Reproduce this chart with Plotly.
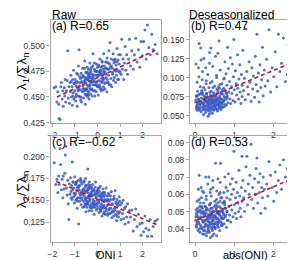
import plotly.graph_objects as go

# ---------------- data ----------------
oni = [
    -1.92, -1.85, -1.80, -1.76, -1.72, -1.70, -1.66, -1.63, -1.60, -1.57, -1.54, -1.52,
    -1.48, -1.45, -1.43, -1.41, -1.38, -1.35, -1.32, -1.30, -1.27, -1.25, -1.22, -1.20,
    -1.18, -1.15, -1.13, -1.12, -1.10, -1.08, -1.06, -1.05, -1.03, -1.01,
    -0.99, -0.97, -0.96, -0.94, -0.92, -0.90, -0.89, -0.87, -0.85, -0.83,
    -0.82, -0.80, -0.78, -0.76, -0.75, -0.73, -0.71, -0.70, -0.68, -0.66,
    -0.65, -0.63, -0.62, -0.60, -0.59, -0.57, -0.56, -0.55, -0.54, -0.53,
    -0.52, -0.51, -0.50,
    -0.49, -0.48, -0.47, -0.46, -0.45, -0.44, -0.43, -0.42, -0.41, -0.40,
    -0.39, -0.38, -0.37, -0.36, -0.35, -0.34, -0.33, -0.32, -0.31, -0.30,
    -0.28, -0.27, -0.26, -0.25, -0.24, -0.22, -0.21, -0.20, -0.18, -0.17,
    -0.15, -0.14, -0.12, -0.11, -0.09, -0.08, -0.06, -0.05, -0.04, -0.02,
    0.00, 0.01, 0.03, 0.04, 0.05, 0.07, 0.08, 0.10, 0.11, 0.12,
    0.14, 0.15, 0.17, 0.18, 0.20, 0.21, 0.23, 0.24, 0.26, 0.27,
    0.29, 0.30, 0.32, 0.33, 0.35, 0.36, 0.38, 0.39, 0.41, 0.42,
    0.43, 0.45, 0.46, 0.48, 0.49, 0.50,
    0.52, 0.55, 0.57, 0.59, 0.61, 0.63, 0.65, 0.67, 0.69, 0.71,
    0.73, 0.75, 0.78, 0.80, 0.82, 0.84, 0.86, 0.88, 0.91, 0.93,
    0.96, 0.98,
    1.01, 1.04, 1.07, 1.10, 1.13, 1.16, 1.19, 1.22, 1.25, 1.29,
    1.33, 1.37, 1.41, 1.46,
    1.52, 1.58, 1.63, 1.69, 1.75, 1.81, 1.87, 1.93, 1.98,
    2.04, 2.10, 2.15, 2.21, 2.27, 2.33, 2.40, 2.46, 2.55, 2.64,
    -0.985, -0.935, -0.885, -0.835, -0.785, -0.735, -0.685, -0.635, -0.585, -0.535,
    -0.485, -0.445, -0.405, -0.365, -0.325, -0.285, -0.245, -0.205, -0.165, -0.125,
    -0.465, -0.425, -0.385, -0.345, -0.305, -0.265, -0.225, -0.185, -0.145, -0.105,
    -0.065, -0.025, 0.015, 0.055, 0.095, 0.135, 0.175, 0.215, 0.255, 0.295,
    -0.045, -0.005, 0.035, 0.075, 0.115, 0.155, 0.195, 0.235, 0.275, 0.315,
    0.335, 0.375, 0.415, 0.455, 0.495, 0.535, 0.575, 0.615, 0.655, 0.695,
    -0.975, -0.915, -0.855, -0.795, -0.745, -0.695, -0.645, -0.595, -0.545, -0.515,
    0.735, 0.775, 0.815, 0.855, 0.895, 0.935, 0.975, -1.045, -1.095, -1.165,
]
lam1_raw = [
    0.459, 0.460, 0.445, 0.455, 0.443, 0.429, 0.428, 0.460, 0.464, 0.448, 0.456, 0.441,
    0.459, 0.451, 0.467, 0.445, 0.456, 0.466, 0.495, 0.449, 0.460, 0.444, 0.464, 0.455,
    0.471, 0.450, 0.460, 0.442, 0.467, 0.454, 0.476, 0.448, 0.463, 0.456,
    0.467, 0.446, 0.461, 0.453, 0.473, 0.441, 0.464, 0.457, 0.480, 0.451,
    0.496, 0.461, 0.450, 0.468, 0.457, 0.473, 0.445, 0.465, 0.455, 0.478,
    0.461, 0.470, 0.449, 0.465, 0.458, 0.485, 0.453, 0.469, 0.443, 0.464,
    0.474, 0.457, 0.468,
    0.452, 0.473, 0.462, 0.479, 0.456, 0.467, 0.450, 0.470, 0.460, 0.477,
    0.455, 0.466, 0.448, 0.472, 0.462, 0.483, 0.458, 0.469, 0.453, 0.475,
    0.465, 0.479, 0.457, 0.468, 0.451, 0.472, 0.462, 0.492, 0.456, 0.471,
    0.465, 0.477, 0.451, 0.475, 0.462, 0.471, 0.455, 0.482, 0.464, 0.475,
    0.460, 0.471, 0.452, 0.480, 0.466, 0.474, 0.462, 0.487, 0.458, 0.473,
    0.465, 0.479, 0.456, 0.472, 0.464, 0.484, 0.469, 0.477, 0.460, 0.492,
    0.468, 0.480, 0.458, 0.474, 0.464, 0.484, 0.472, 0.478, 0.455, 0.488,
    0.467, 0.477, 0.464, 0.483, 0.471, 0.495,
    0.462, 0.503, 0.479, 0.468, 0.487, 0.460, 0.478, 0.472, 0.492, 0.466,
    0.483, 0.476, 0.487, 0.464, 0.481, 0.471, 0.497, 0.476, 0.486, 0.467,
    0.482, 0.474,
    0.491, 0.472, 0.506, 0.477, 0.487, 0.467, 0.483, 0.499, 0.476, 0.491,
    0.472, 0.487, 0.506, 0.480,
    0.495, 0.477, 0.491, 0.507, 0.484, 0.496, 0.479, 0.504, 0.490,
    0.504, 0.515, 0.487, 0.520, 0.498, 0.491, 0.511, 0.496, 0.501, 0.492,
    0.464, 0.451, 0.472, 0.459, 0.464, 0.450, 0.469, 0.458, 0.478, 0.457,
    0.458, 0.474, 0.452, 0.469, 0.473, 0.464, 0.457, 0.480, 0.468, 0.462,
    0.467, 0.453, 0.471, 0.461, 0.477, 0.458, 0.470, 0.465, 0.483, 0.456,
    0.475, 0.461, 0.471, 0.481, 0.460, 0.475, 0.468, 0.480, 0.457, 0.475,
    0.465, 0.479, 0.461, 0.471, 0.476, 0.458, 0.485, 0.466, 0.474, 0.463,
    0.478, 0.469, 0.484, 0.464, 0.477, 0.482, 0.462, 0.480, 0.474, 0.486,
    0.450, 0.465, 0.456, 0.470, 0.447, 0.464, 0.471, 0.456, 0.467, 0.452,
    0.469, 0.485, 0.475, 0.484, 0.467, 0.491, 0.475, 0.463, 0.451, 0.465,
]
lam2_raw = [
    0.193, 0.168, 0.174, 0.159, 0.178, 0.168, 0.209, 0.191, 0.162, 0.174, 0.153, 0.178,
    0.163, 0.181, 0.202, 0.212, 0.164, 0.156, 0.173, 0.146, 0.128, 0.169, 0.157, 0.176,
    0.160, 0.167, 0.151, 0.194, 0.162, 0.171, 0.154, 0.164, 0.147, 0.177,
    0.156, 0.168, 0.150, 0.171, 0.161, 0.141, 0.165, 0.153, 0.173, 0.123,
    0.162, 0.149, 0.167, 0.156, 0.175, 0.145, 0.160, 0.153, 0.169, 0.157,
    0.142, 0.163, 0.149, 0.171, 0.155, 0.160, 0.146, 0.165, 0.152, 0.175,
    0.137, 0.160, 0.150,
    0.167, 0.153, 0.142, 0.162, 0.146, 0.159, 0.186, 0.148, 0.168, 0.155,
    0.138, 0.163, 0.149, 0.171, 0.144, 0.157, 0.151, 0.164, 0.142, 0.159,
    0.146, 0.165, 0.138, 0.155, 0.160, 0.144, 0.168, 0.151, 0.146, 0.161,
    0.134, 0.156, 0.142, 0.158, 0.171, 0.146, 0.154, 0.139, 0.161, 0.150,
    0.158, 0.141, 0.164, 0.147, 0.155, 0.136, 0.160, 0.143, 0.151, 0.166,
    0.138, 0.155, 0.146, 0.158, 0.132, 0.151, 0.141, 0.163, 0.143, 0.154,
    0.137, 0.149, 0.159, 0.134, 0.151, 0.141, 0.164, 0.138, 0.149, 0.144,
    0.155, 0.133, 0.151, 0.145, 0.158, 0.139,
    0.149, 0.135, 0.155, 0.141, 0.160, 0.130, 0.146, 0.138, 0.151, 0.132,
    0.155, 0.141, 0.161, 0.134, 0.146, 0.127, 0.151, 0.137, 0.147, 0.131,
    0.154, 0.137,
    0.145, 0.128, 0.147, 0.135, 0.150, 0.129, 0.141, 0.123, 0.143, 0.131,
    0.146, 0.125, 0.138, 0.131,
    0.139, 0.115, 0.128, 0.140, 0.120, 0.134, 0.123, 0.110, 0.124,
    0.114, 0.132, 0.118, 0.109, 0.116, 0.128, 0.109, 0.120, 0.126, 0.128,
    0.158, 0.171, 0.149, 0.167, 0.153, 0.173, 0.158, 0.162, 0.143, 0.167,
    0.161, 0.146, 0.164, 0.152, 0.167, 0.141, 0.156, 0.148, 0.162, 0.145,
    0.148, 0.162, 0.154, 0.166, 0.142, 0.157, 0.162, 0.142, 0.149, 0.165,
    0.157, 0.144, 0.162, 0.148, 0.156, 0.138, 0.151, 0.142, 0.159, 0.144,
    0.146, 0.160, 0.150, 0.164, 0.140, 0.154, 0.144, 0.156, 0.135, 0.150,
    0.156, 0.141, 0.150, 0.135, 0.156, 0.141, 0.151, 0.136, 0.145, 0.137,
    0.169, 0.152, 0.165, 0.158, 0.171, 0.151, 0.162, 0.172, 0.152, 0.145,
    0.152, 0.139, 0.148, 0.132, 0.144, 0.135, 0.149, 0.158, 0.171, 0.153,
]

abs_oni = [
    0.01, 0.02, 0.03, 0.04, 0.05, 0.06, 0.07, 0.08, 0.09, 0.10,
    0.10, 0.11, 0.12, 0.13, 0.14, 0.14, 0.15, 0.16, 0.17, 0.18,
    0.18, 0.19, 0.20, 0.21, 0.22, 0.22, 0.23, 0.24, 0.25, 0.25,
    0.26, 0.27, 0.28, 0.28, 0.29, 0.30, 0.30, 0.31, 0.32, 0.32,
    0.33, 0.34, 0.34, 0.35, 0.35, 0.36, 0.37, 0.37, 0.38, 0.39,
    0.39, 0.40, 0.41, 0.41, 0.42, 0.43, 0.43, 0.44, 0.45, 0.45,
    0.46, 0.47, 0.47, 0.48, 0.49, 0.49, 0.50, 0.51, 0.51, 0.52,
    0.53, 0.53, 0.54, 0.55, 0.55, 0.56, 0.57, 0.58, 0.58, 0.59,
    0.60, 0.61, 0.61, 0.62, 0.63, 0.63, 0.64, 0.65, 0.66, 0.66,
    0.67, 0.68, 0.69, 0.70, 0.70, 0.15, 0.27, 0.40, 0.05, 0.21,
    0.33, 0.44, 0.12, 0.58,
    0.72, 0.73, 0.74, 0.75, 0.76, 0.77, 0.78, 0.79, 0.80, 0.81,
    0.82, 0.83, 0.84, 0.85, 0.86, 0.88, 0.89, 0.90, 0.91, 0.93,
    0.94, 0.95, 0.97, 0.98, 0.99, 1.00, 1.02, 1.03, 1.05, 1.06,
    1.08, 1.09, 1.11, 1.12, 1.14, 1.15, 1.17, 1.18, 1.20, 1.20,
    1.22, 1.24, 1.26, 1.28, 1.30, 1.32, 1.34, 1.36, 1.38, 1.40,
    1.43, 1.45, 1.47, 1.49, 1.52, 1.54, 1.56, 1.58, 1.60, 1.62,
    1.64, 1.66, 1.68, 1.70, 1.72, 1.74, 1.77, 1.79,
    1.83, 1.86, 1.89, 1.93, 1.97, 2.01, 2.05, 2.09, 2.13, 2.17,
    2.21, 2.26, 2.31, 2.36, 2.38, 2.42, 2.47, 2.51, 2.60, 2.66,
    0.015, 0.045, 0.075, 0.105, 0.135, 0.165, 0.195, 0.225, 0.255, 0.285,
    0.315, 0.345, 0.375, 0.405, 0.435, 0.465, 0.495, 0.525, 0.555, 0.585,
    0.615, 0.645, 0.675, 0.705, 0.735, 0.765, 0.025, 0.065, 0.115, 0.155,
    0.205, 0.245, 0.275, 0.305, 0.335, 0.365, 0.395, 0.425, 0.455, 0.485,
    0.515, 0.545, 0.575, 0.605, 0.635, 0.665, 0.695, 0.725, 0.755, 0.785,
    0.035, 0.085, 0.125, 0.175, 0.235, 0.265, 0.325, 0.355, 0.415, 0.445,
    0.475, 0.505, 0.535, 0.565, 0.595, 0.625, 0.655, 0.685, 0.215, 0.385,
    0.095, 0.185, 0.285, 0.365, 0.455, 0.545, 0.635, 0.745, 0.805, 0.825,
]
lam1_des = [
    0.068, 0.118, 0.062, 0.075, 0.057, 0.082, 0.066, 0.113, 0.071, 0.145,
    0.059, 0.078, 0.064, 0.088, 0.139, 0.069, 0.055, 0.073, 0.061, 0.097,
    0.067, 0.080, 0.058, 0.072, 0.065, 0.125, 0.076, 0.060, 0.084, 0.069,
    0.054, 0.074, 0.063, 0.092, 0.070, 0.058, 0.079, 0.066, 0.104, 0.061,
    0.073, 0.056, 0.068, 0.087, 0.064, 0.052, 0.071, 0.133, 0.060, 0.077,
    0.065, 0.055, 0.082, 0.069, 0.062, 0.095, 0.074, 0.058, 0.067, 0.115,
    0.072, 0.063, 0.080, 0.057, 0.070, 0.066, 0.089, 0.061, 0.075, 0.128,
    0.068, 0.059, 0.078, 0.064, 0.100, 0.071, 0.056, 0.083, 0.066, 0.073,
    0.060, 0.148, 0.069, 0.086, 0.063, 0.076, 0.110, 0.067, 0.058, 0.081,
    0.072, 0.092, 0.065, 0.078, 0.061, 0.123, 0.113, 0.139, 0.094, 0.051,
    0.049, 0.053, 0.057, 0.132,
    0.069, 0.098, 0.075, 0.062, 0.121, 0.083, 0.071, 0.105, 0.064, 0.090,
    0.076, 0.140, 0.067, 0.112, 0.081, 0.095, 0.072, 0.126, 0.066, 0.088,
    0.079, 0.118, 0.070, 0.101, 0.150, 0.084, 0.068, 0.109, 0.092, 0.077,
    0.130, 0.086, 0.072, 0.098, 0.117, 0.081, 0.066, 0.104, 0.090, 0.075,
    0.136, 0.083, 0.099, 0.071, 0.164, 0.108, 0.088, 0.078, 0.121, 0.094,
    0.069, 0.113, 0.085, 0.102, 0.074, 0.128, 0.091, 0.157, 0.082, 0.106,
    0.068, 0.117, 0.087, 0.097, 0.140, 0.076, 0.110, 0.089,
    0.124, 0.096, 0.163, 0.081, 0.113, 0.101, 0.134, 0.088, 0.157, 0.108,
    0.119, 0.152, 0.095, 0.104, 0.143, 0.114, 0.127, 0.100, 0.090, 0.091,
    0.071, 0.064, 0.077, 0.060, 0.069, 0.083, 0.066, 0.058, 0.074, 0.079,
    0.063, 0.070, 0.081, 0.059, 0.067, 0.076, 0.062, 0.072, 0.085, 0.065,
    0.071, 0.060, 0.079, 0.068, 0.086, 0.074, 0.076, 0.061, 0.069, 0.080,
    0.062, 0.070, 0.057, 0.075, 0.066, 0.061, 0.072, 0.068, 0.059, 0.077,
    0.064, 0.070, 0.080, 0.062, 0.073, 0.067, 0.084, 0.071, 0.065, 0.079,
    0.059, 0.072, 0.065, 0.078, 0.062, 0.068, 0.074, 0.058, 0.066, 0.071,
    0.063, 0.069, 0.075, 0.058, 0.088, 0.066, 0.072, 0.061, 0.087, 0.093,
    0.101, 0.108, 0.096, 0.119, 0.087, 0.103, 0.091, 0.099, 0.080, 0.073,
]
lam2_des = [
    0.045, 0.051, 0.041, 0.048, 0.044, 0.052, 0.039, 0.063, 0.046, 0.071,
    0.043, 0.050, 0.038, 0.055, 0.047, 0.042, 0.049, 0.058, 0.040, 0.045,
    0.052, 0.037, 0.047, 0.044, 0.061, 0.050, 0.041, 0.048, 0.053, 0.039,
    0.045, 0.043, 0.057, 0.049, 0.036, 0.046, 0.052, 0.042, 0.066, 0.047,
    0.040, 0.051, 0.044, 0.070, 0.048, 0.038, 0.054, 0.046, 0.043, 0.050,
    0.035, 0.047, 0.059, 0.041, 0.049, 0.044, 0.052, 0.039, 0.046, 0.068,
    0.042, 0.050, 0.045, 0.037, 0.053, 0.048, 0.056, 0.043, 0.040, 0.078,
    0.047, 0.051, 0.044, 0.036, 0.062, 0.049, 0.042, 0.055, 0.046, 0.041,
    0.050, 0.060, 0.045, 0.053, 0.039, 0.048, 0.067, 0.078, 0.044, 0.052,
    0.047, 0.058, 0.042, 0.050, 0.046, 0.064, 0.070, 0.063, 0.056, 0.039,
    0.041, 0.036, 0.051, 0.069,
    0.049, 0.061, 0.043, 0.055, 0.070, 0.047, 0.052, 0.064, 0.041, 0.058,
    0.050, 0.062, 0.045, 0.072, 0.053, 0.048, 0.057, 0.066, 0.044, 0.060,
    0.051, 0.069, 0.047, 0.063, 0.085, 0.054, 0.049, 0.058, 0.067, 0.046,
    0.061, 0.055, 0.050, 0.074, 0.059, 0.052, 0.047, 0.064, 0.082, 0.056,
    0.068, 0.058, 0.050, 0.062, 0.076, 0.082, 0.054, 0.066, 0.060, 0.071,
    0.089, 0.057, 0.064, 0.052, 0.069, 0.060, 0.075, 0.081, 0.055, 0.067,
    0.061, 0.072, 0.049, 0.064, 0.058, 0.070, 0.063, 0.052,
    0.066, 0.059, 0.079, 0.071, 0.064, 0.056, 0.073, 0.061, 0.068, 0.077,
    0.063, 0.080, 0.070, 0.075, 0.067, 0.061, 0.072, 0.059, 0.064, 0.062,
    0.047, 0.043, 0.050, 0.040, 0.046, 0.053, 0.044, 0.049, 0.042, 0.051,
    0.045, 0.039, 0.048, 0.052, 0.043, 0.047, 0.041, 0.054, 0.046, 0.049,
    0.044, 0.050, 0.046, 0.055, 0.048, 0.052, 0.042, 0.047, 0.053, 0.041,
    0.049, 0.045, 0.051, 0.038, 0.048, 0.044, 0.055, 0.040, 0.050, 0.043,
    0.047, 0.052, 0.043, 0.049, 0.056, 0.042, 0.051, 0.046, 0.054, 0.048,
    0.049, 0.044, 0.046, 0.050, 0.037, 0.053, 0.047, 0.042, 0.048, 0.045,
    0.050, 0.041, 0.046, 0.053, 0.044, 0.048, 0.058, 0.043, 0.055, 0.061,
    0.057, 0.062, 0.059, 0.054, 0.064, 0.057, 0.061, 0.056, 0.050, 0.045,
]

# linear-fit lines (end points)
fit_a_x = [-1.80, 2.65]; fit_a_y = [0.450, 0.4963]
fit_b_x = [0.03, 2.63];  fit_b_y = [0.0673, 0.1227]
fit_c_x = [-1.83, 2.68]; fit_c_y = [0.1716, 0.1216]
fit_d_x = [0.03, 2.63];  fit_d_y = [0.0449, 0.0706]

panel_labels = ["(a) R=0.65", "(b) R=0.47", "(c) R=\u22120.62", "(d) R=0.53"]
col_titles = ["Raw", "Deseasonalized"]
ylab = "\u03bb<sub>1</sub>/\u2211\u03bb<sub>n</sub>"
ylab2 = "\u03bb<sub>2</sub>/\u2211\u03bb<sub>n</sub>"

# ---------------- layout geometry ----------------
W, H = 295, 260
def px_x(p): return p / W
def px_y(p): return 1 - p / H

FONT = "Liberation Sans, Arial, Helvetica, sans-serif"
PT_COLOR = "rgba(58,88,196,0.85)"
FIT_COLOR = "#B2182B"
FRAME = "#A6A6A6"

fig = go.Figure()

panels = [
    dict(x=oni, y=lam1_raw, fx=fit_a_x, fy=fit_a_y, xa="x", ya="y"),
    dict(x=abs_oni, y=lam1_des, fx=fit_b_x, fy=fit_b_y, xa="x2", ya="y2"),
    dict(x=oni, y=lam2_raw, fx=fit_c_x, fy=fit_c_y, xa="x3", ya="y3"),
    dict(x=abs_oni, y=lam2_des, fx=fit_d_x, fy=fit_d_y, xa="x4", ya="y4"),
]
for p in panels:
    fig.add_trace(go.Scatter(x=p["x"], y=p["y"], mode="markers", xaxis=p["xa"], yaxis=p["ya"],
                             marker=dict(size=3.0, color=PT_COLOR, line=dict(width=0)),
                             showlegend=False, hoverinfo="skip"))
    fig.add_trace(go.Scatter(x=p["fx"], y=p["fy"], mode="lines", xaxis=p["xa"], yaxis=p["ya"],
                             line=dict(color=FIT_COLOR, width=1.6, dash="4px,3px"),
                             showlegend=False, hoverinfo="skip"))

colx = [[px_x(40), px_x(152)], [px_x(181), px_x(293)]]
rowy = [[px_y(117), px_y(12)], [px_y(238), px_y(130)]]

def axstyle(**kw):
    d = dict(showgrid=False, zeroline=False, showline=True, mirror=True, linecolor=FRAME,
             linewidth=1.2, ticks="outside", ticklen=3, tickwidth=1, tickcolor=FRAME,
             tickfont=dict(family=FONT, size=8.5, color="#333333"))
    d.update(kw)
    return d

xr_raw = [-2.08, 2.83]
xr_abs = [-0.13, 2.71]
tick_raw = [-2, -1, 0, 1, 2]
tick_abs = [0, 1, 2]

fig.update_layout(
    width=W, height=H, margin=dict(l=0, r=0, t=0, b=0),
    paper_bgcolor="white", plot_bgcolor="white",
    xaxis=axstyle(domain=colx[0], range=xr_raw, tickvals=tick_raw, anchor="y"),
    yaxis=axstyle(domain=rowy[0], range=[0.4245, 0.525], tickvals=[0.425, 0.45, 0.475, 0.5],
                  tickformat=".3f", anchor="x"),
    xaxis2=axstyle(domain=colx[1], range=xr_abs, tickvals=tick_abs, anchor="y2"),
    yaxis2=axstyle(domain=rowy[0], range=[0.040, 0.176], tickvals=[0.05, 0.075, 0.1, 0.125, 0.15],
                   tickformat=".3f", anchor="x2"),
    xaxis3=axstyle(domain=colx[0], range=xr_raw, tickvals=tick_raw, anchor="y3"),
    yaxis3=axstyle(domain=rowy[1], range=[0.102, 0.2236], tickvals=[0.125, 0.15, 0.175, 0.2],
                   tickformat=".3f", anchor="x3"),
    xaxis4=axstyle(domain=colx[1], range=xr_abs, tickvals=tick_abs, anchor="y4"),
    yaxis4=axstyle(domain=rowy[1], range=[0.0322, 0.0938], tickvals=[0.04, 0.05, 0.06, 0.07, 0.08, 0.09],
                   tickformat=".2f", anchor="x4"),
)

ann = []
def add_text(text, x, y, size, xanchor="left", yanchor="middle", angle=0):
    ann.append(dict(text=text, x=px_x(x), y=px_y(y), xref="paper", yref="paper",
                    xanchor=xanchor, yanchor=yanchor, showarrow=False, textangle=angle,
                    font=dict(family=FONT, size=size, color="black")))

add_text(col_titles[0], 39, 7, 12)
add_text(col_titles[1], 178, 7, 12)
add_text(panel_labels[0], 39, 18.5, 12)
add_text(panel_labels[1], 180, 18.5, 12)
add_text(panel_labels[2], 39, 136.5, 12)
add_text(panel_labels[3], 180, 136.5, 12)
add_text(ylab, 11, 64, 13.5, xanchor="center", angle=-90)
add_text(ylab2, 11, 184, 13.5, xanchor="center", angle=-90)
add_text("ONI", 96, 251, 11, xanchor="center")
add_text("abs(ONI)", 237, 251, 11, xanchor="center")
fig.update_layout(annotations=ann)

fig.write_html("out.html")
